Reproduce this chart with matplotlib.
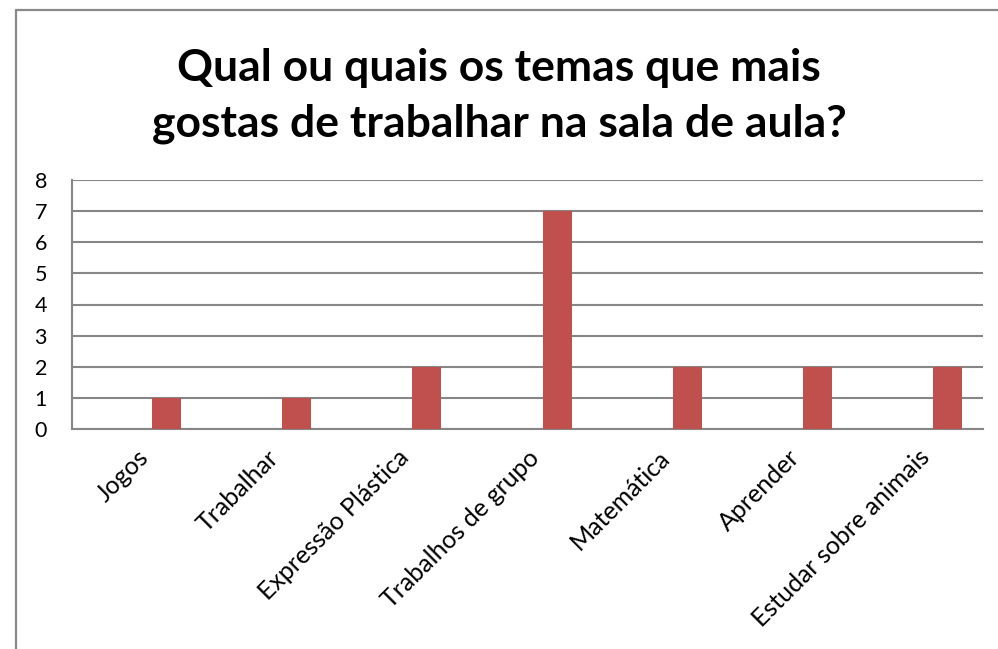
import matplotlib.pyplot as plt
from matplotlib.patches import Rectangle

plt.rcParams["font.family"] = ["Lato", "DejaVu Sans"]

temas = ["Jogos", "Trabalhar", "Expressão Plástica", "Trabalhos de grupo",
         "Matemática", "Aprender", "Estudar sobre animais"]
respostas = [1, 1, 2, 7, 2, 2, 2]
y_ticks = [0, 1, 2, 3, 4, 5, 6, 7, 8]

fig = plt.figure(figsize=(9.98, 6.49), dpi=100)

# moldura do gráfico (cortada em baixo e à direita)
fig.patches.append(Rectangle((16 / 998, -0.05), 1.0, 1 - 10 / 649 + 0.05,
                             transform=fig.transFigure, fill=False,
                             edgecolor="#898989", linewidth=1.6))

ax = fig.add_axes([72 / 998, 1 - 429 / 649, (983 - 72) / 998, (429 - 180) / 649])

pos = range(len(temas))
ax.bar([p + 0.227 for p in pos], respostas, width=0.223, color="#C0504D", zorder=3)

ax.set_xlim(-0.5, len(temas) - 0.5)
ax.set_ylim(0, 8)
ax.set_yticks(y_ticks)
ax.yaxis.grid(True, color="#868686", linewidth=1.5, zorder=0)
ax.set_axisbelow(True)

for s in ["top", "right"]:
    ax.spines[s].set_visible(False)
for s in ["left", "bottom"]:
    ax.spines[s].set_color("#868686")
    ax.spines[s].set_linewidth(1.5)

ax.tick_params(axis="y", length=0, pad=18, labelsize=15.5)
ax.tick_params(axis="x", length=0, pad=12)
ax.set_xticks(list(pos))
ax.set_xticklabels(temas, rotation=45, ha="right", rotation_mode="anchor", fontsize=18)

fig.text(0.5, 1 - 68 / 649, "Qual ou quais os temas que mais", ha="center", va="center",
         fontsize=32, fontweight="bold")
fig.text(0.5, 1 - 124 / 649, "gostas de trabalhar na sala de aula?", ha="center",
         va="center", fontsize=32, fontweight="bold")

fig.savefig("out.png", dpi=100)
